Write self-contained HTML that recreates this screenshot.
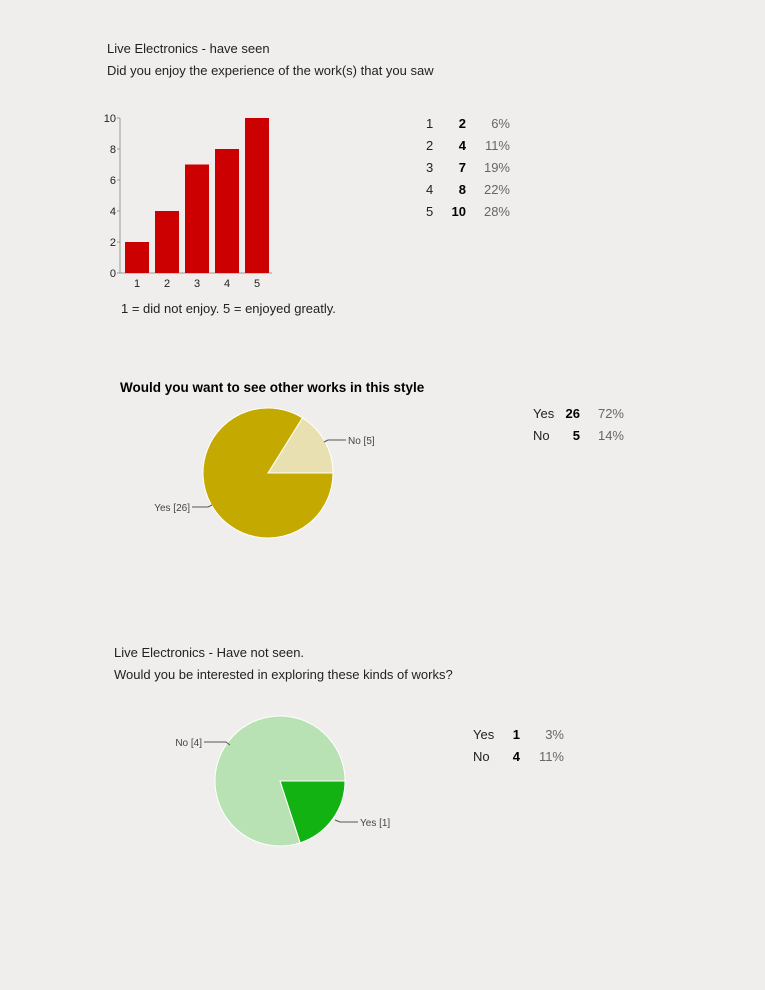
<!DOCTYPE html>
<html><head><meta charset="utf-8"><style>
body{margin:0;width:765px;height:990px;background:#efeeec;font-family:"Liberation Sans",sans-serif;position:relative;overflow:hidden}
.t{position:absolute;font-size:13px;color:#222;white-space:nowrap}
svg{position:absolute;left:0;top:0}
</style></head><body>
<div class="t" style="left:107px;top:41px">Live Electronics - have seen</div>
<div class="t" style="left:107px;top:63px">Did you enjoy the experience of the work(s) that you saw</div>
<div class="t" style="left:121px;top:301px">1 = did not enjoy. 5 = enjoyed greatly.</div>
<div class="t" style="left:120px;top:380px;font-weight:bold;font-size:13.5px;color:#000">Would you want to see other works in this style</div>
<div class="t" style="left:114px;top:645px">Live Electronics - Have not seen.</div>
<div class="t" style="left:114px;top:667px">Would you be interested in exploring these kinds of works?</div>
<svg id="s" width="765" height="990"></svg>
<script>
const barCats=["1","2","3","4","5"];
const barVals=[2,4,7,8,10];
const barPcts=["6%","11%","19%","22%","28%"];
const yTicks=[0,2,4,6,8,10];
const pie1Labels=["Yes","No"];
const pie1Vals=[26,5];
const pie1Pcts=["72%","14%"];
const pie2Labels=["Yes","No"];
const pie2Vals=[1,4];
const pie2Pcts=["3%","11%"];
const NS="http://www.w3.org/2000/svg",s=document.getElementById('s');
function el(t,a,txt){const e=document.createElementNS(NS,t);for(const k in a)e.setAttribute(k,a[k]);if(txt!==undefined)e.textContent=txt;s.appendChild(e);return e;}
// bar chart
const x0=120,y0=273,yTop=118,yMax=10;
const ys=v=>y0-(v/yMax)*(y0-yTop);
const xs=i=>x0+5+i*30;
yTicks.forEach(v=>{const t=el('text',{x:x0-4,y:ys(v)+4,'text-anchor':'end','font-size':11,fill:'#222','font-family':'Liberation Sans'},v);

el('line',{x1:x0-3,x2:x0,y1:ys(v),y2:ys(v),stroke:'#999'});});
el('line',{x1:x0,x2:x0,y1:yTop,y2:y0,stroke:'#999'});
el('line',{x1:x0,x2:x0+152,y1:y0,y2:y0,stroke:'#999'});
barVals.forEach((v,i)=>{const r=el('rect',{x:xs(i),y:ys(v),width:24,height:y0-ys(v),fill:'#cc0000'});

const t=el('text',{x:xs(i)+12,y:y0+14,'text-anchor':'middle','font-size':11,fill:'#222','font-family':'Liberation Sans'},barCats[i]);

const ty=128+i*22;
el('text',{x:426,y:ty,'font-size':13,fill:'#222','font-family':'Liberation Sans'},barCats[i]);
el('text',{x:466,y:ty,'text-anchor':'end','font-size':13,'font-weight':'bold',fill:'#000','font-family':'Liberation Sans'},v);
el('text',{x:510,y:ty,'text-anchor':'end','font-size':13,fill:'#666','font-family':'Liberation Sans'},barPcts[i]);});
// pies
function pie(cx,cy,r,vals,labels,pcts,colors,dir,tx,ty0){
const tot=vals.reduce((a,b)=>a+b,0);let a=0;
vals.forEach((v,i)=>{});
// first slice (index dirIdx) starts at 0 angle
const order=dir; // [startIndex, sign]
let ang=0;
order.forEach(([i,sg])=>{
 const sw=vals[i]/tot*2*Math.PI*sg;
 const a1=ang,a2=ang+sw;
 const p1=[cx+r*Math.cos(a1),cy+r*Math.sin(a1)],p2=[cx+r*Math.cos(a2),cy+r*Math.sin(a2)];
 const large=Math.abs(sw)>Math.PI?1:0;
 const p=el('path',{d:`M${cx},${cy}L${p1[0]},${p1[1]}A${r},${r} 0 ${large} ${sg>0?1:0} ${p2[0]},${p2[1]}Z`,fill:colors[i],stroke:'#fff','stroke-width':1});
 
 ang=a2;
});
labels.forEach((l,i)=>{const ty=ty0+i*22;
el('text',{x:tx,y:ty,'font-size':13,fill:'#222','font-family':'Liberation Sans'},l);
el('text',{x:tx+47,y:ty,'text-anchor':'end','font-size':13,'font-weight':'bold',fill:'#000','font-family':'Liberation Sans'},vals[i]);
el('text',{x:tx+91,y:ty,'text-anchor':'end','font-size':13,fill:'#666','font-family':'Liberation Sans'},pcts[i]);});
}
pie(268,473,65,pie1Vals,pie1Labels,pie1Pcts,['#c4aa00','#e8e0b0'],[[1,-1],[0,-1]],533,418);
pie(280,781,65,pie2Vals,pie2Labels,pie2Pcts,['#11b211','#b8e2b3'],[[0,1],[1,1]],473,739);
// callouts
function call(x1,y1,x2,y2,tx,ty,anchor,txt,name){el('polyline',{points:`${x1},${y1} ${x2},${y2} ${tx},${ty}`,fill:'none',stroke:'#555'});
const t=el('text',{x:anchor=='end'?tx-2:tx+2,y:ty+4,'text-anchor':anchor,'font-size':10,fill:'#444','font-family':'Liberation Sans'},txt);
}
call(324,442,328,440,346,440,'start','No [5]','pie1-no-label');
call(212,505,208,507,192,507,'end','Yes [26]','pie1-yes-label');
call(230,745,226,742,204,742,'end','No [4]','pie2-no-label');
call(335,820,340,822,358,822,'start','Yes [1]','pie2-yes-label');
</script>
</body></html>
